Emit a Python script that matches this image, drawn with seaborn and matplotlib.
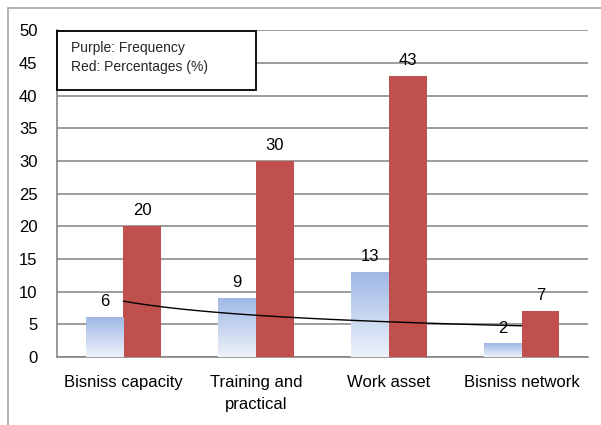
# Bar chart: frequency (gradient blue) vs percentages (red) per category, with power trendline
import numpy as np
import pandas as pd
from matplotlib import pyplot as plt
from matplotlib.colors import LinearSegmentedColormap
from matplotlib.lines import Line2D
from matplotlib.patches import Rectangle
from matplotlib.transforms import blended_transform_factory
import seaborn as sns

sns.set_style('white')
plt.rcParams['font.family'] = ['Liberation Sans', 'DejaVu Sans']

# Data
categories = ['Bisniss capacity', 'Training and\npractical', 'Work asset', 'Bisniss network']
frequency = [6, 9, 13, 2]
percentage = [20, 30, 43, 7]
y_ticks = list(range(0, 51, 5))
legend_lines = ['Purple: Frequency', 'Red: Percentages (%)']

df = pd.DataFrame({
    'Category': categories * 2,
    'Value': frequency + percentage,
    'Series': ['Frequency'] * len(categories) + ['Percentage'] * len(categories),
})

fig = plt.figure(figsize=(6.01, 4.25), dpi=100)
ax = fig.add_axes([0.0948, 0.16, 0.8835, 0.769])

sns.barplot(data=df, x='Category', y='Value', hue='Series',
            palette=['#A7BFE8', '#C0504D'], saturation=1, width=0.57, ax=ax,
            legend=False, zorder=3, linewidth=0)

# gradient fill for the frequency bars (light at the bottom, blue at the top)
cmap = LinearSegmentedColormap.from_list('blue_grad', ['#EEF2FA', '#9FB8E5'])
grad = np.linspace(0, 1, 256).reshape(-1, 1)
for bar in ax.containers[0]:
    x0, y0 = bar.get_x(), bar.get_y()
    w, h = bar.get_width(), bar.get_height()
    bar.set_facecolor('none')
    ax.imshow(grad, cmap=cmap, extent=[x0, x0 + w, y0, y0 + h],
              origin='lower', aspect='auto', zorder=3)

# value labels
for cont in ax.containers:
    ax.bar_label(cont, padding=6, fontsize=12, color='black')

# power trendline fitted on the frequency values
pos = np.arange(len(categories))
b, a = np.polyfit(np.log(pos + 1), np.log(frequency), 1)
xs = np.linspace(pos[0], pos[-1], 100)
ax.plot(xs, np.exp(a) * (xs + 1) ** b, color='black', lw=1, zorder=4)

ax.set_xlim(-0.5, len(categories) - 0.5)
ax.set_ylim(0, 50)
ax.set_yticks(y_ticks)
ax.set_xticks(pos)
ax.set_xticklabels(categories, linespacing=1.55)
ax.set_xticks(np.arange(-0.5, len(categories)), minor=True)
ax.set_xlabel('')
ax.set_ylabel('')

ax.tick_params(axis='x', which='major', length=0, pad=13, labelsize=12, colors='black')
ax.tick_params(axis='x', which='minor', length=5, width=1.2, color='#868686', direction='out')
ax.tick_params(axis='y', length=6, width=1.2, color='#868686', direction='out',
               pad=8, labelsize=12, labelcolor='black')

ax.yaxis.grid(True, color='#8C8C8C', lw=1.2)
ax.set_axisbelow(True)
for side in ['top', 'right']:
    ax.spines[side].set_visible(False)
for side in ['left', 'bottom']:
    ax.spines[side].set_color('#868686')
    ax.spines[side].set_linewidth(1.2)

# text box in the upper left
trans = blended_transform_factory(ax.transAxes, ax.transData)
ax.add_patch(Rectangle((0.0, 40.8), 0.375, 9.05, transform=trans,
                       facecolor='white', edgecolor='black', lw=1.3, zorder=5,
                       clip_on=False))
ax.text(0.026, 47.2, legend_lines[0], transform=trans, fontsize=10,
        color='#262626', va='center', zorder=6)
ax.text(0.026, 44.3, legend_lines[1], transform=trans, fontsize=10,
        color='#262626', va='center', zorder=6)

# chart area frame
fig.add_artist(Line2D([8 / 601, 8 / 601], [0, 1 - 8 / 425], transform=fig.transFigure,
                      color='#A6A6A6', lw=1.2))
fig.add_artist(Line2D([8 / 601, 1], [1 - 8 / 425, 1 - 8 / 425], transform=fig.transFigure,
                      color='#A6A6A6', lw=1.2))

fig.savefig('out.png', dpi=100)
